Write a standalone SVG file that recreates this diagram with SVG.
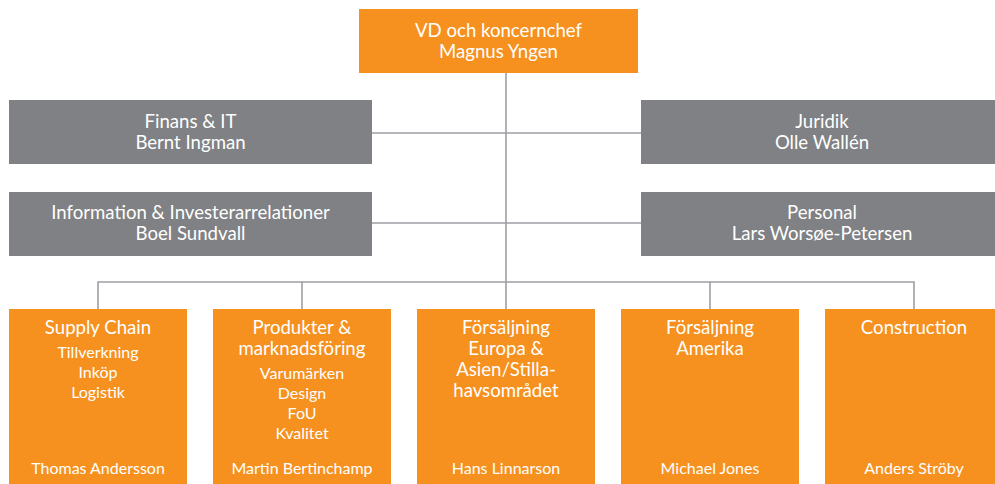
<svg xmlns="http://www.w3.org/2000/svg" width="995" height="484" viewBox="0 0 995 484">
<style>
.o{fill:#F6911F}
.g{fill:#808184}
.t{font-family:Lato,"Noto Sans",sans-serif;fill:#fff;text-anchor:middle}
.l{font-size:18.6px}
.s{font-size:16px}
.c{stroke:#9D9FA2;stroke-width:1.6;fill:none}
</style>
<rect width="995" height="484" fill="#fff"/>
<g id="connectors" class="c">
<path d="M506 73V282"/>
<path d="M372 133H641M372 223H641"/>
<path d="M98 309V282H914V309M302 282V309M506 282V309M710 282V309"/>
</g>
<g id="ceo"><rect class="o" x="359" y="9" width="279" height="64"/>
<text class="t l" x="498.5" y="37">VD och koncernchef</text>
<text class="t l" x="498.5" y="58">Magnus Yngen</text></g>
<g id="finans"><rect class="g" x="9" y="100" width="363" height="64"/>
<text class="t l" x="190.5" y="128">Finans &amp; IT</text>
<text class="t l" x="190.5" y="149">Bernt Ingman</text></g>
<g id="info"><rect class="g" x="9" y="192" width="363" height="64"/>
<text class="t l" x="190.5" y="219">Information &amp; Investerarrelationer</text>
<text class="t l" x="190.5" y="240">Boel Sundvall</text></g>
<g id="juridik"><rect class="g" x="641" y="100" width="363" height="64"/>
<text class="t l" x="822" y="128">Juridik</text>
<text class="t l" x="822" y="149">Olle Wallén</text></g>
<g id="personal"><rect class="g" x="641" y="192" width="363" height="64"/>
<text class="t l" x="822" y="219">Personal</text>
<text class="t l" x="822" y="240">Lars Worsøe-Petersen</text></g>
<g id="supply"><rect class="o" x="9" y="309" width="178" height="180"/>
<text class="t l" x="98" y="334">Supply Chain</text>
<text class="t s" x="98" y="358">Tillverkning</text>
<text class="t s" x="98" y="378">Inköp</text>
<text class="t s" x="98" y="398">Logistik</text>
<text class="t s" x="98" y="474">Thomas Andersson</text></g>
<g id="produkter"><rect class="o" x="213" y="309" width="178" height="180"/>
<text class="t l" x="302" y="334">Produkter &amp;</text>
<text class="t l" x="302" y="355">marknadsföring</text>
<text class="t s" x="302" y="379">Varumärken</text>
<text class="t s" x="302" y="399">Design</text>
<text class="t s" x="302" y="419">FoU</text>
<text class="t s" x="302" y="439">Kvalitet</text>
<text class="t s" x="302" y="474">Martin Bertinchamp</text></g>
<g id="europa"><rect class="o" x="417" y="309" width="178" height="180"/>
<text class="t l" x="506" y="334">Försäljning</text>
<text class="t l" x="506" y="355">Europa &amp;</text>
<text class="t l" x="506" y="376">Asien/Stilla-</text>
<text class="t l" x="506" y="397">havsområdet</text>
<text class="t s" x="506" y="474">Hans Linnarson</text></g>
<g id="amerika"><rect class="o" x="621" y="309" width="178" height="180"/>
<text class="t l" x="710" y="334">Försäljning</text>
<text class="t l" x="710" y="355">Amerika</text>
<text class="t s" x="710" y="474">Michael Jones</text></g>
<g id="construction"><rect class="o" x="825" y="309" width="178" height="180"/>
<text class="t l" x="914" y="334">Construction</text>
<text class="t s" x="914" y="474">Anders Ströby</text></g>
</svg>
